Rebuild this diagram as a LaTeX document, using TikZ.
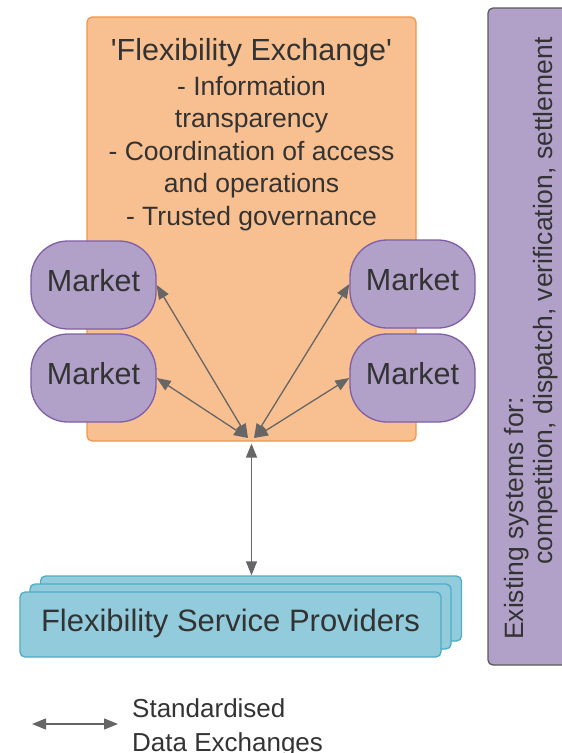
\documentclass[tikz,border=0pt]{standalone}
\usepackage{fontspec}
\setmainfont{Liberation Sans}[Ligatures=TeXOff]
\usetikzlibrary{arrows.meta}
\definecolor{orfill}{HTML}{F8C090}
\definecolor{ordraw}{HTML}{F0964A}
\definecolor{pufill}{HTML}{B1A0C7}
\definecolor{pudraw}{HTML}{7E5FA8}
\definecolor{cyfill}{HTML}{92CCDC}
\definecolor{cydraw}{HTML}{4DACC6}
\definecolor{txt}{HTML}{333333}
\definecolor{arr}{HTML}{666666}
\definecolor{sidedraw}{HTML}{5A5A5A}
\begin{document}
\begin{tikzpicture}[x=1pt,y=-1pt,
  every node/.style={text=txt},
  exbox/.style={draw=ordraw, fill=orfill, line width=1.2pt, rounded corners=5pt,
    minimum width=329pt, minimum height=424pt, inner sep=0pt},
  market/.style={draw=pudraw, fill=pufill, line width=1.3pt, rounded corners=37pt,
    minimum width=125pt, minimum height=88pt, inner sep=0pt,
    font=\fontsize{30.5}{36}\selectfont, text height=22.2pt, text depth=10.2pt},
  fspbox/.style={draw=cydraw, fill=cyfill, line width=1.3pt, rounded corners=5pt,
    minimum width=421pt, minimum height=65pt, inner sep=0pt},
  sidebox/.style={draw=sidedraw, fill=pufill, line width=1.3pt, rounded corners=5pt,
    minimum width=100pt, minimum height=657pt, inner sep=0pt},
  link/.style={draw=arr, line width=1.3pt,
    {Triangle[length=14pt,width=11pt]}-{Triangle[length=14pt,width=11pt]}},
  bodytext/.style={inner sep=0pt, font=\fontsize{26.5}{32.5}\selectfont}
]
\useasboundingbox (0,0) rectangle (562,753);

% side box
\node[sidebox] (side) at (538,336.5) {};
\node[bodytext, rotate=90, anchor=north west, align=left,
  font=\fontsize{26.5}{29}\selectfont] (sidetext) at (503.7,640)
  {Existing systems for:\\\hspace*{75pt}competition, dispatch, verification, settlement};

% flexibility exchange
\node[exbox] (ex) at (251.5,229) {};
\node[bodytext, anchor=north, align=center] (extext) at (251.5,38)
  {{\fontsize{30.5}{35}\selectfont 'Flexibility Exchange'}\\[2.5pt]
   - Information\\ transparency\\ - Coordination of access\\ and operations\\ - Trusted governance};

% markets
\node[market] (mLT) at (93.5,285) {Market};
\node[market] (mLB) at (93.5,378) {Market};
\node[market] (mRT) at (412.5,284) {Market};
\node[market] (mRB) at (412.5,378) {Market};

% FSP stack
\node[fspbox] (fsp3) at (251,608.5) {};
\node[fspbox] (fsp2) at (240.5,616.5) {};
\node[fspbox, font=\fontsize{31}{36}\selectfont, text height=22.6pt, text depth=9.6pt]
  (fsp1) at (230.5,624.5) {Flexibility Service Providers};

% connectors
\coordinate (hubL) at (248,438);
\coordinate (hubR) at (254,438);
\draw[link] (mLT.east) -- (hubL);
\draw[link] (mLB.east) -- (hubL);
\draw[link] (mRT.west) -- (hubR);
\draw[link] (mRB.west) -- (hubR);
\draw[link] ([yshift=-2pt]ex.south) -- (ex.south |- fsp3.north);

% legend
\coordinate (lgA) at (32,724);
\coordinate (lgB) at (118,724);
\draw[link] (lgA) -- (lgB);
\node[bodytext, anchor=north west, align=left, font=\fontsize{26}{34}\selectfont]
  (legend) at (132,698) {Standardised\\Data Exchanges};
\end{tikzpicture}
\end{document}
